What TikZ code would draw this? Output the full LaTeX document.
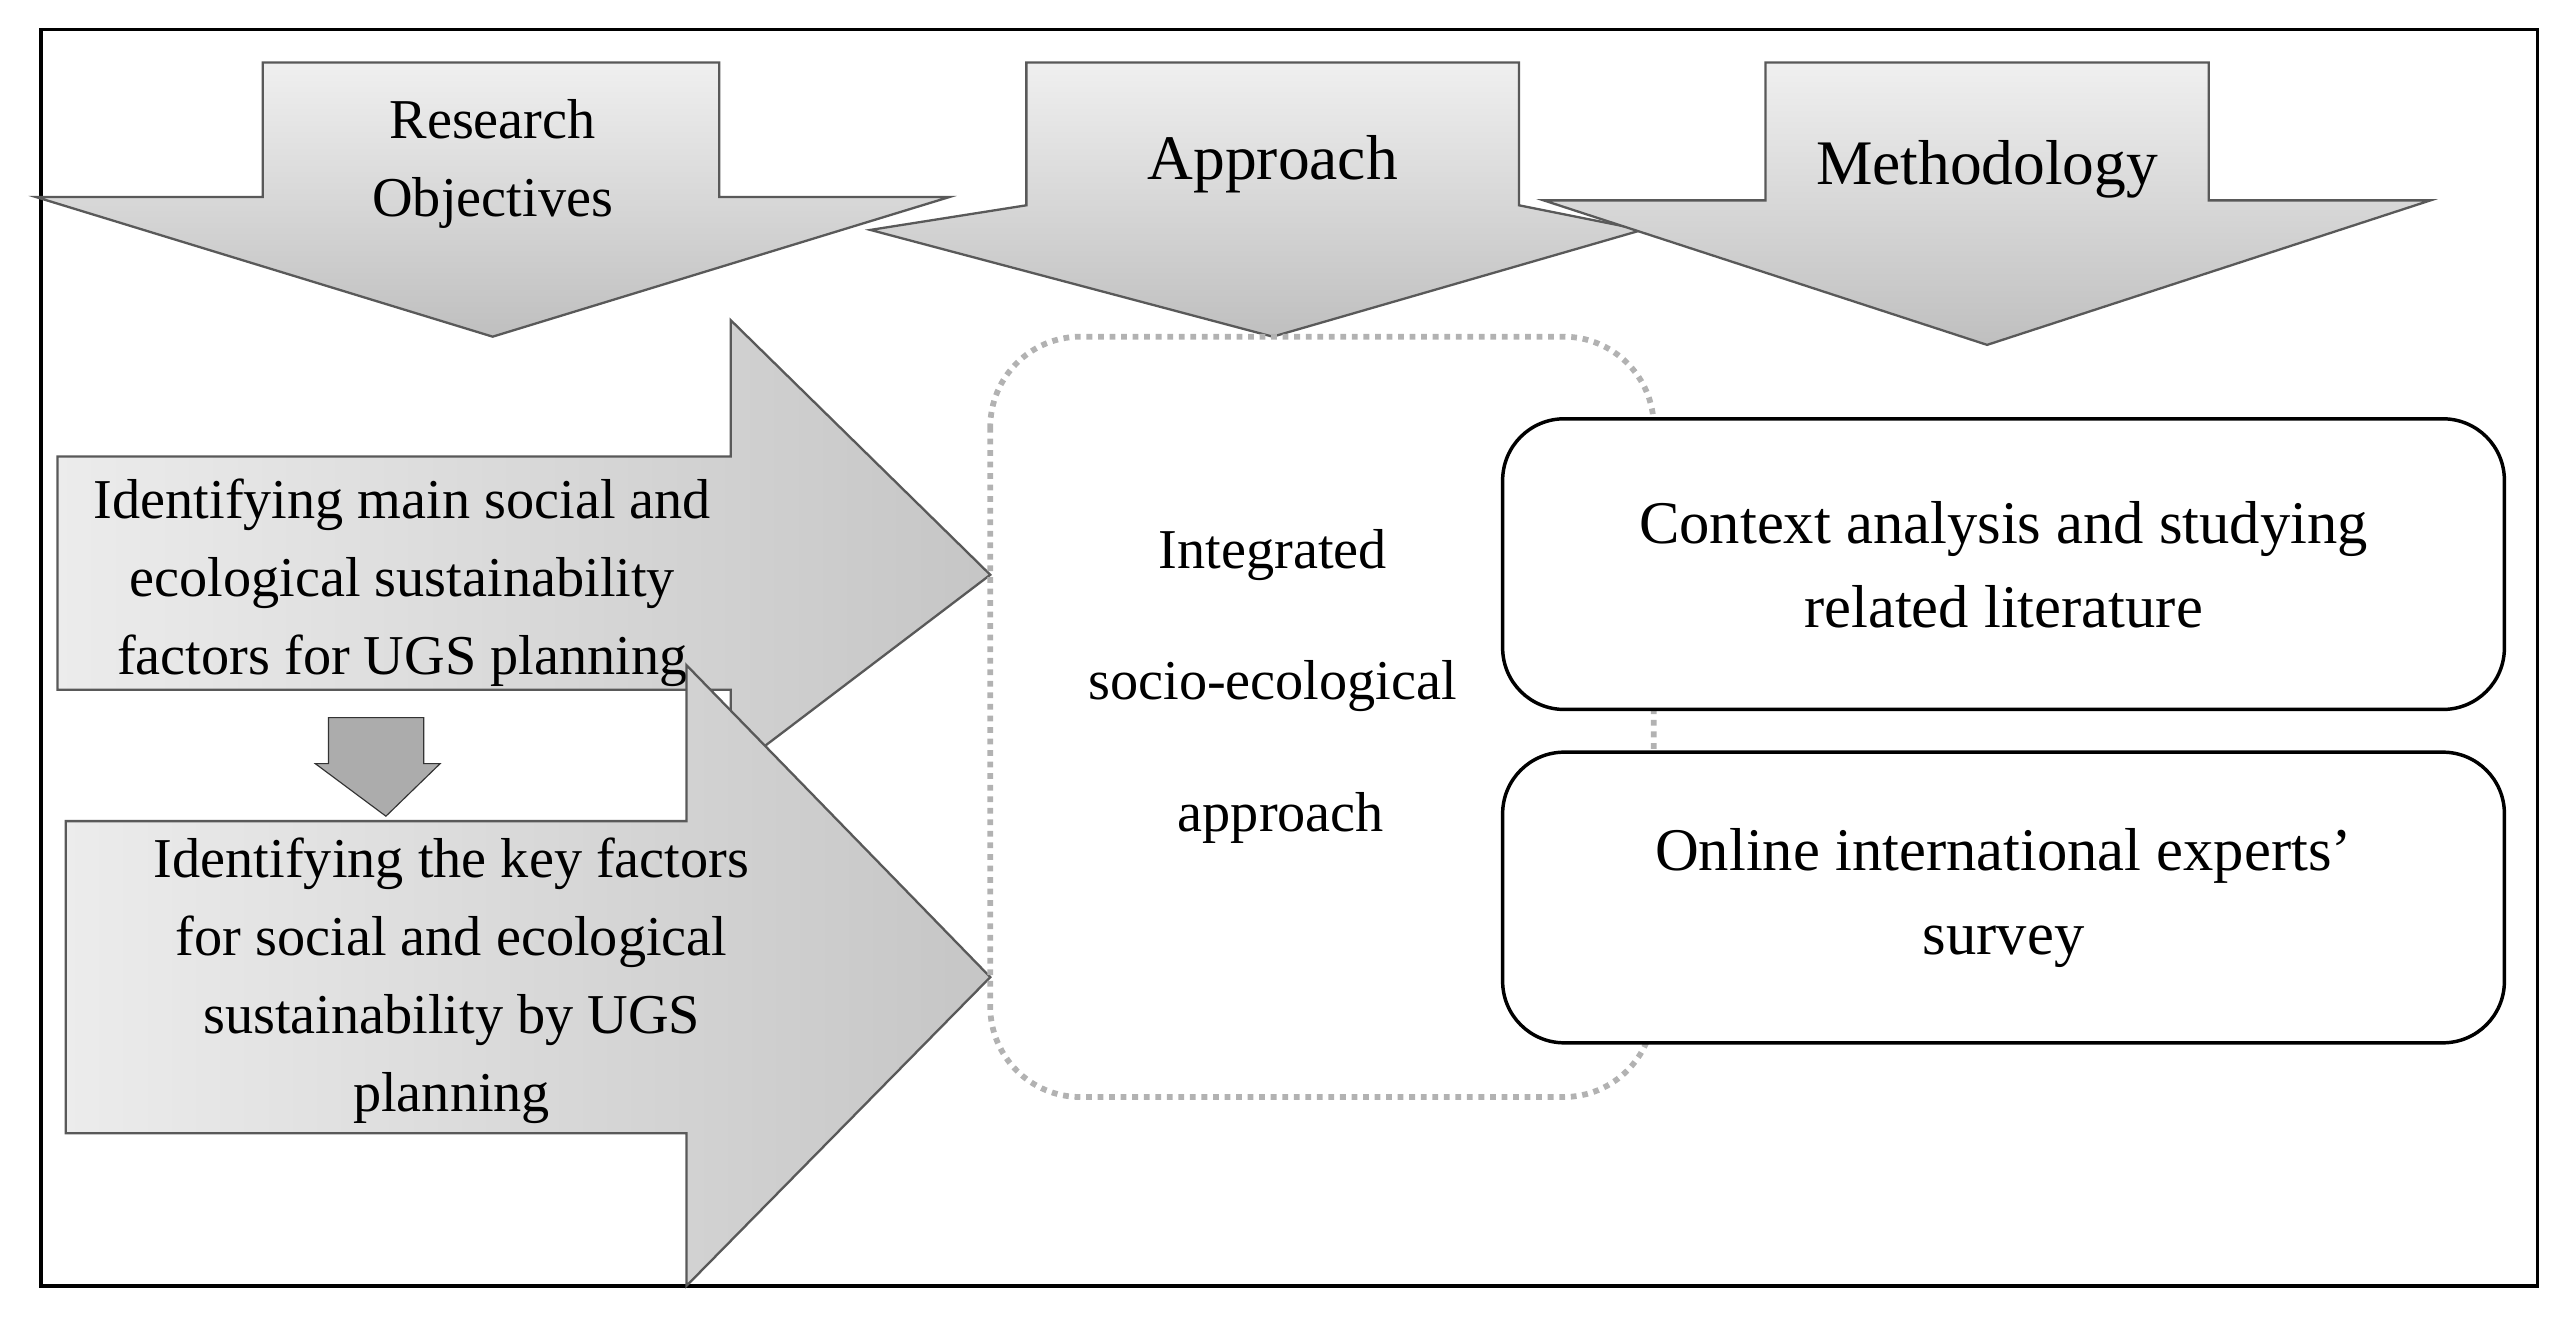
\documentclass[tikz,border=0pt]{standalone}
\usepackage{fontspec}
\setmainfont{Liberation Serif}
\begin{document}
\begin{tikzpicture}[x=0.02cm,y=-0.02cm,
 arr/.style={draw=gray!70!black,line width=0.8pt,top color=gray!12,bottom color=gray!50},
 rarr/.style={draw=gray!70!black,line width=0.8pt,left color=gray!15,right color=gray!45},
 txt/.style={font=\fontsize{19.5}{27}\selectfont,align=center},
 box/.style={draw,fill=white,line width=1.2pt,rounded corners=0.75cm}]
\useasboundingbox (0,0) rectangle (1568,806);
\draw[line width=1.2pt] (25,18) rectangle (1545,783);
% down arrows
\draw[arr] (160,38)--(438,38)--(438,120)--(578,120)--(300,205)--(22,120)--(160,120)--cycle;
\draw[arr] (625,38)--(925,38)--(925,125)--(1000,140)--(775,205)--(530,140)--(625,125)--cycle;
\draw[arr] (1075,38)--(1345,38)--(1345,122)--(1480,122)--(1210,210)--(940,122)--(1075,122)--cycle;
\node[txt] (ro) at (300,100) {Research\\Objectives};
\node[txt,font=\fontsize{22}{27}\selectfont] (ap) at (775,100) {Approach};
\node[txt,font=\fontsize{22}{27}\selectfont] (me) at (1210,103) {Methodology};
% right arrows
\draw[rarr] (35,278)--(445,278)--(445,195)--(603,350)--(445,470)--(445,420)--(35,420)--cycle;
\node[txt] (ta) at (245,355) {Identifying main social and\\ecological sustainability\\factors for UGS planning};
\draw[rarr] (40,500)--(418,500)--(418,405)--(603,595)--(418,783)--(418,690)--(40,690)--cycle;
\node[txt] (tb) at (275,597) {Identifying the key factors\\for social and ecological\\sustainability by UGS\\planning};
\draw[draw=gray!40!black,fill=gray!65] (200,437)--(258,437)--(258,465)--(268,465)--(235,497)--(192,465)--(200,465)--cycle;
% dotted box
\draw[gray!60,line width=2pt,dotted,rounded corners=1.1cm] (603,205) rectangle (1007,668);
\node[txt] (i1) at (775,338) {Integrated};
\node[txt] (i2) at (775,418) {socio-ecological};
\node[txt] (i3) at (780,498) {approach};
\draw[box] (915,255) rectangle (1525,432);
\node[txt,font=\fontsize{21}{29}\selectfont] (c1) at (1220,344) {Context analysis and studying\\related literature};
\draw[box] (915,458) rectangle (1525,635);
\node[txt,font=\fontsize{21}{29}\selectfont] (c2) at (1220,547) {Online international experts’\\survey};
\end{tikzpicture}
\end{document}
